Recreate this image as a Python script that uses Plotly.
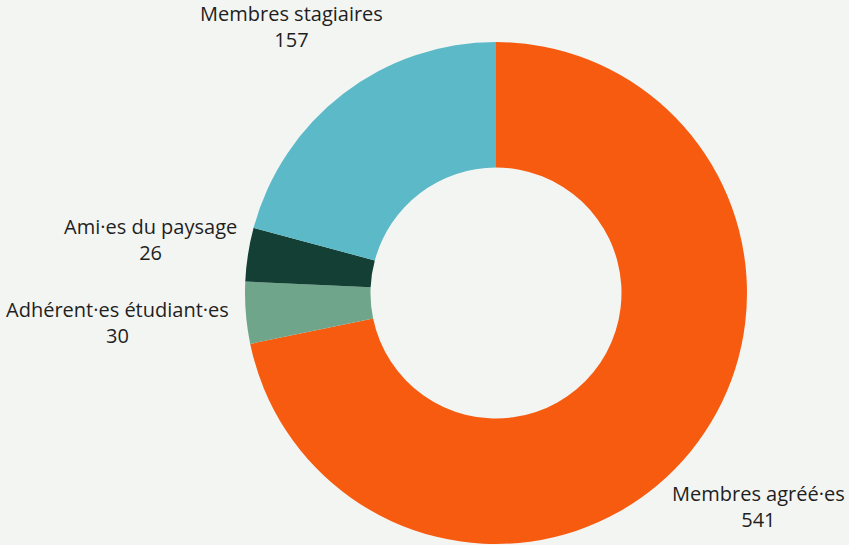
import math
import plotly.graph_objects as go

categories = ["Membres agréé·es", "Adhérent·es étudiant·es", "Ami·es du paysage", "Membres stagiaires"]
values = [541, 30, 26, 157]
colors = ["#f65b10", "#6fa58a", "#133f35", "#5bb9c8"]

W, H = 849, 545
cx, cy, r = 496, 293, 251
FS = 20
GAP = 7

fig = go.Figure(go.Pie(
    labels=categories,
    values=values,
    hole=0.5,
    sort=False,
    direction="clockwise",
    rotation=0,
    marker=dict(colors=colors, line=dict(width=0)),
    textinfo="none",
    showlegend=False,
    hoverinfo="label+value",
    domain=dict(x=[(cx - r) / W, (cx + r) / W], y=[(H - cy - r) / H, (H - cy + r) / H]),
))

# outside labels, placed radially from each slice's mid-angle
total = sum(values)
cum = 0
for lab, v in zip(categories, values):
    theta = (cum + v / 2) / total * 2 * math.pi
    cum += v
    ux, uy = math.sin(theta), math.cos(theta)  # paper coords (y up)
    half_w = 0.52 * FS * len(lab) / 2
    half_h = 1.3 * FS
    d = r + GAP + abs(ux) * half_w + abs(uy) * half_h
    px = cx + d * ux
    py = (H - cy) + d * uy
    fig.add_annotation(
        x=px / W, y=py / H, xref="paper", yref="paper",
        text=f"{lab}<br>{v}", showarrow=False,
        xanchor="center", yanchor="middle", align="center",
        font=dict(family="Open Sans", size=FS, color="#1f1f1f"),
    )

fig.update_layout(
    width=W, height=H,
    margin=dict(l=0, r=0, t=0, b=0),
    paper_bgcolor="#f3f5f2",
    plot_bgcolor="#f3f5f2",
    font=dict(family="Open Sans", size=FS, color="#1f1f1f"),
)

fig.write_html(
    "out.html",
    config={"displayModeBar": False},
    post_script="document.body.style.margin='0';document.body.style.overflow='hidden';",
)
